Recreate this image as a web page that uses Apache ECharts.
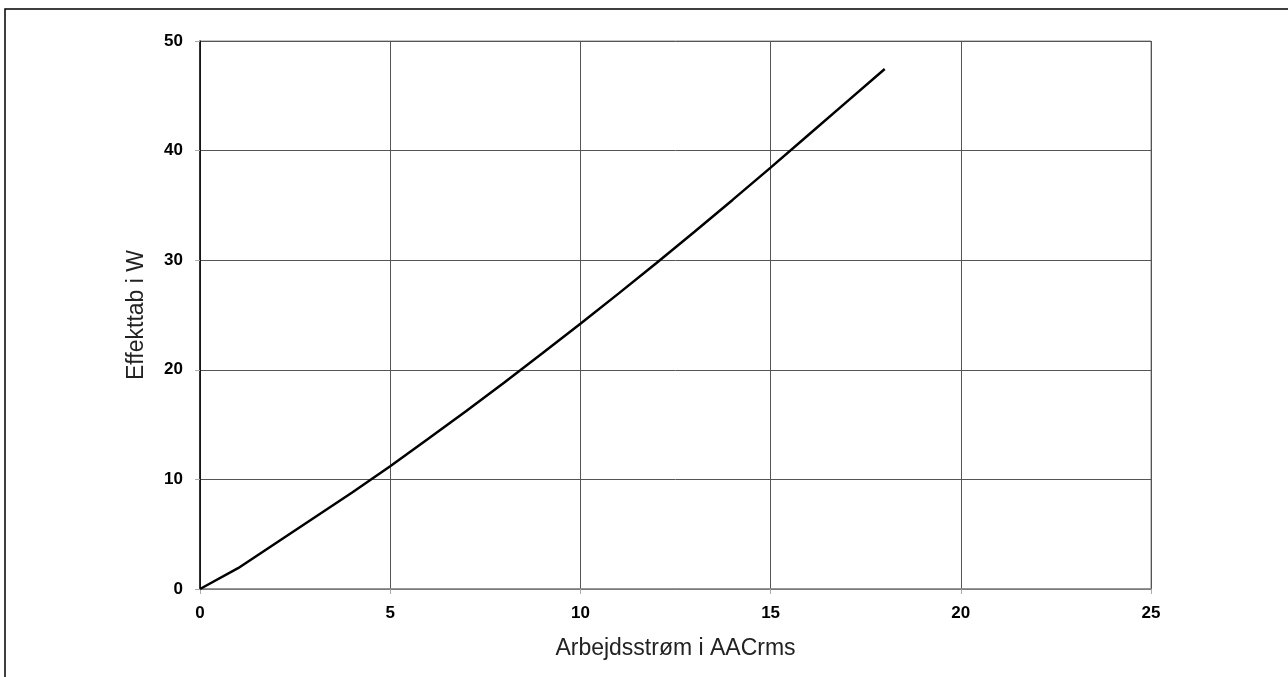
<!DOCTYPE html>
<html>
<head>
<meta charset="utf-8">
<script src="https://cdn.jsdelivr.net/npm/echarts@6/dist/echarts.min.js"></script>
<style>
  html, body { margin: 0; padding: 0; background: #fff; }
  #chart { width: 1288px; height: 677px; }
</style>
</head>
<body>
<div id="chart"></div>
<script>
// strøm (A) og effekttab (W) aflæst fra kurven
var current = [0, 1, 2, 3, 4, 5, 6, 7, 8, 9, 10, 11, 12, 13, 14, 15, 16, 17, 18];
var powerLoss = [0, 1.9, 4.2, 6.5, 8.8, 11.2, 13.7, 16.25, 18.85, 21.5, 24.2, 26.95, 29.75, 32.6, 35.5, 38.45, 41.45, 44.45, 47.45];
var xTicks = [0, 5, 10, 15, 20, 25];
var yTicks = [0, 10, 20, 30, 40, 50];

var pts = [];
for (var i = 0; i < current.length; i++) {
    pts.push([current[i], powerLoss[i]]);
}

var chart = echarts.init(document.getElementById('chart'));
var option = {
    backgroundColor: '#fff',
    animation: false,
    graphic: [{
        type: 'rect',
        shape: { x: 5, y: 9, width: 1300, height: 700 },
        style: { fill: 'none', stroke: '#000', lineWidth: 1.5 },
        silent: true
    }],
    grid: {
        left: 200, right: 137, top: 41, bottom: 88,
        show: true, borderColor: '#888', borderWidth: 1, backgroundColor: 'transparent'
    },
    xAxis: {
        type: 'value',
        min: xTicks[0], max: xTicks[xTicks.length - 1], interval: 5,
        name: 'Arbejdsstrøm i AACrms',
        nameLocation: 'middle',
        nameGap: 48,
        nameMoveOverlap: false,
        nameTextStyle: { fontFamily: 'Liberation Sans', fontSize: 23, color: '#222' },
        axisLine: { show: true, lineStyle: { color: '#888', width: 1.5 } },
        axisTick: { show: true, length: 5, lineStyle: { color: '#aaa' } },
        axisLabel: { margin: 16, fontFamily: 'Liberation Sans', fontSize: 17, fontWeight: 'bold', color: '#000' },
        splitLine: { show: true, lineStyle: { color: '#555', width: 1 } }
    },
    yAxis: {
        type: 'value',
        min: yTicks[0], max: yTicks[yTicks.length - 1], interval: 10,
        name: 'Effekttab i W',
        nameLocation: 'middle',
        nameGap: 52,
        nameMoveOverlap: false,
        nameTextStyle: { fontFamily: 'Liberation Sans', fontSize: 23, color: '#222' },
        axisLine: { show: true, lineStyle: { color: '#000', width: 1.5 } },
        axisTick: { show: true, length: 5, lineStyle: { color: '#aaa' } },
        axisLabel: { margin: 17, fontFamily: 'Liberation Sans', fontSize: 17, fontWeight: 'bold', color: '#000' },
        splitLine: { show: true, lineStyle: { color: '#555', width: 1 } }
    },
    series: [{
        type: 'line',
        data: pts,
        showSymbol: false,
        lineStyle: { color: '#000', width: 2.5 }
    }]
};
chart.setOption(option);
</script>
</body>
</html>
